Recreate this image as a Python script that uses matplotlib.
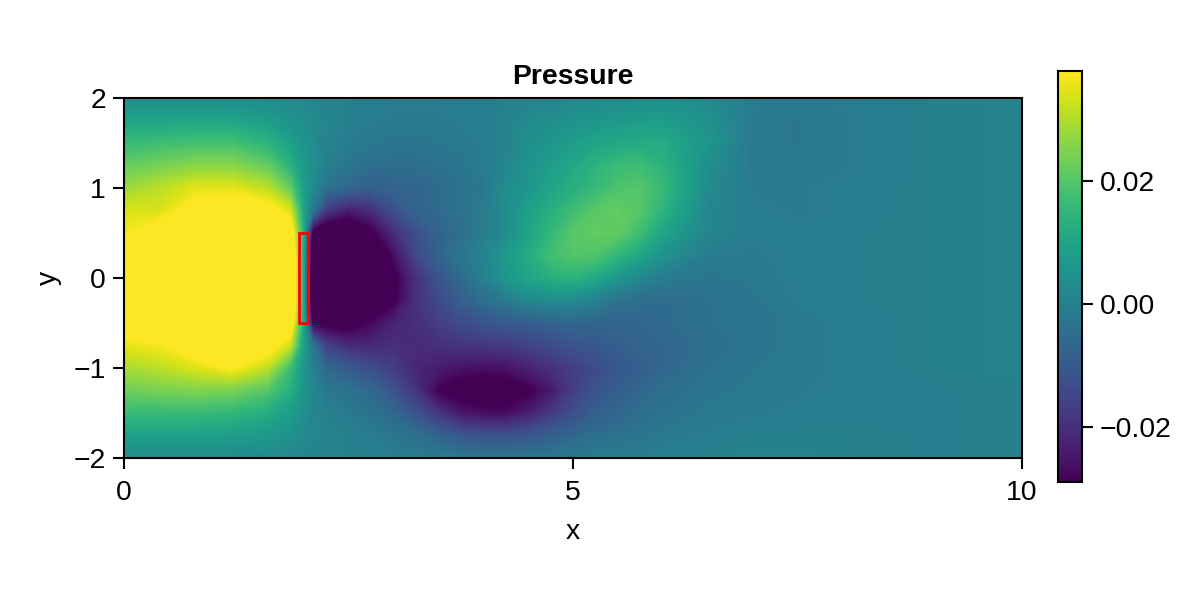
import numpy as np
import matplotlib
matplotlib.use("Agg")
import matplotlib.pyplot as plt
from matplotlib.cm import ScalarMappable
from matplotlib.colors import Normalize
from matplotlib.patches import Rectangle

plt.rcParams["font.family"] = ["Liberation Sans", "DejaVu Sans"]
plt.rcParams["font.size"] = 20.4

# grid nodes, finer around the plate
x_nodes = [0, 0.4, 0.8, 1.2, 1.6, 1.85, 2.0, 2.1, 2.25, 2.5, 2.75, 3.0, 3.25, 3.5, 3.75,
           4.0, 4.25, 4.5, 4.75, 5.0, 5.25, 5.5, 5.75, 6.0, 6.5, 7.0, 7.5, 8.0, 9.0, 10.0]
y_nodes = [2.0, 1.75, 1.5, 1.25, 1.0, 0.75, 0.5, 0.25, 0.0,
           -0.25, -0.5, -0.75, -1.0, -1.25, -1.5, -1.75, -2.0]

# pressure in units of 1e-3, one row per y node (top to bottom)
pressure = [
    [3, 3, 3, 3, 3, 2.5, 2, 1.5, 1, 0, -0.5, -1, -1, -1, -1, -0.5, 0, 0.5, 1, 2, 2.5, 3, 3.5, 4, 3, -1, -2, -1, 0, 0.5],
    [10, 10, 10, 10, 8, 5, 4, 3, 1.5, 0, -1, -1.5, -1.5, -1.5, -1, -0.5, 1, 3, 4, 5, 6, 7, 7.5, 8, 5, -1.5, -2.5, -1.5, 0, 0.5],
    [16, 17, 18, 18, 14, 9, 5.5, 3.5, 1, -1.5, -2.5, -3, -3, -2.5, -2, -1, 1, 4, 6, 8, 10, 11, 12, 12, 6, -2, -2.5, -1.5, 0, 0.5],
    [22, 24, 26, 26, 22, 14, 7, 4, 0, -3, -5, -5, -5, -4, -3, -1, 1.5, 5, 8, 11, 14, 16.5, 17, 14, 4, -2, -2, -1.5, 0, 0.5],
    [28, 31, 35, 35, 31, 22, 8, 3, -4, -7, -9, -8, -7.5, -6, -4, -2, 3, 6, 10, 13, 16, 19, 20, 16, 3, -1.5, -1.5, -1, 0, 0.5],
    [34, 34, 41, 44, 41, 34, 10, -3, -18, -24, -21, -13, -8, -6, -4, -1, 3, 9, 13, 17, 20.5, 22, 20, 14, 2, -1, -1.5, -1, 0, 0.5],
    [37, 42, 52, 56, 54, 46, 12, -32, -38, -38, -31, -21, -13, -8, -4.5, -1, 3, 10, 15, 20.5, 22, 21.5, 17, 10, 1.5, -1, -1, -0.5, 0, 0.5],
    [45, 55, 62, 66, 64, 54, 10, -40, -45, -50, -44, -27, -15, -8, -3, 1, 7, 12, 17.5, 20, 19, 15, 10, 5, -1, -1.5, -1, -0.5, 0, 0.5],
    [50, 58, 65, 70, 66, 56, 10, -45, -50, -52, -48, -31, -20, -12, -6, 0, 6, 10, 13, 14, 11, 6, 2, -1, -3, -2, -1, -0.5, 0, 0.5],
    [50, 58, 65, 70, 66, 56, 10, -45, -50, -50, -46, -30, -20, -14, -9, -5, -2, 2, 3, 3, 0, -4, -5, -6, -4, -3, -1, -0.5, 0, 0.5],
    [42, 50, 60, 64, 60, 46, 10, -30, -32, -32.5, -28, -23, -20, -17, -14, -12, -10, -10, -8, -7, -7.5, -7, -7, -6, -4, -3, -2, -1, 0, 0.5],
    [35, 37, 42, 46, 42, 32, 8, -3, -16, -21, -22, -20, -21, -20, -19, -18.5, -18, -16, -14, -12, -11, -9, -8, -7, -5, -3, -2, -1, 0, 0.5],
    [29, 31, 34, 38, 31, 17, 6, 0, -7, -10, -13, -17, -22, -24, -26, -26.5, -26, -23, -20, -17, -14, -11, -9, -7, -4, -2.5, -2, -1, 0, 0.5],
    [23, 24, 25, 24, 20, 13, 5, 2, -2, -4, -7, -12, -19, -29.5, -32, -34, -33, -30, -25, -17, -12, -9, -7, -5, -3, -2, -1.5, -1, -0.5, 0],
    [16, 16, 16, 15, 12, 8, 4, 2, 0, -2, -4, -7, -12, -19, -25, -27, -27, -24, -18, -13, -9, -7, -5, -4, -2, -1.5, -1, -0.5, -0.5, 0],
    [9, 9, 9, 8, 7, 5, 3, 2, 1, 0, -1, -3, -5, -8, -11, -12, -12, -11, -9, -7, -5, -4, -3, -2, -1, 0, 0, 0, -0.5, 0],
    [3, 3, 3, 3, 2.5, 2, 1.5, 1, 1, 0, -0.5, -1, -1.5, -2, -2.5, -3, -3, -3, -2.5, -2, -1.5, -1, -1, -0.5, 0, 0.5, 0.5, 0, -0.5, 0],
]

color_min = -0.029
color_max = 0.038
plate_x = [1.95, 2.05]
plate_y = [-0.5, 0.5]

fig = plt.figure(figsize=(12, 6), dpi=100)
ax = fig.add_axes([124 / 1200, 1 - 458 / 600, 898 / 1200, 360 / 600])
cax = fig.add_axes([1058 / 1200, 1 - 482 / 600, 24 / 1200, 411 / 600])

P = np.array(pressure) * 1e-3
norm = Normalize(color_min, color_max)
# many filled levels so the colours follow the values, clipped ends saturate
ax.contourf(x_nodes, y_nodes, P, levels=np.linspace(color_min, color_max, 200),
            cmap="viridis", norm=norm, extend="both", antialiased=False)
ax.add_patch(Rectangle((plate_x[0], plate_y[0]), plate_x[1] - plate_x[0], plate_y[1] - plate_y[0],
                       fill=False, edgecolor="red", linewidth=2))

ax.set_xlim(0, 10)
ax.set_ylim(-2, 2)
ax.set_xticks([0, 5, 10])
ax.set_yticks([-2, -1, 0, 1, 2])
ax.tick_params(axis="y", length=8, width=1.5, pad=5)
ax.tick_params(axis="x", length=8, width=1.5, pad=8)
ax.set_xlabel("x", labelpad=9)
ax.set_ylabel("y", labelpad=8)
ax.set_title("Pressure", fontweight="bold", fontsize=20.4, pad=10)
for spine in ax.spines.values():
    spine.set_linewidth(1.5)

cb = fig.colorbar(ScalarMappable(norm=norm, cmap="viridis"), cax=cax)
cb.set_ticks([-0.02, 0.0, 0.02])
cb.set_ticklabels(["\u22120.02", "0.00", "0.02"])
cax.tick_params(length=8, width=1.5, pad=5)
cb.outline.set_linewidth(1.5)

fig.savefig("out.png", dpi=100)
